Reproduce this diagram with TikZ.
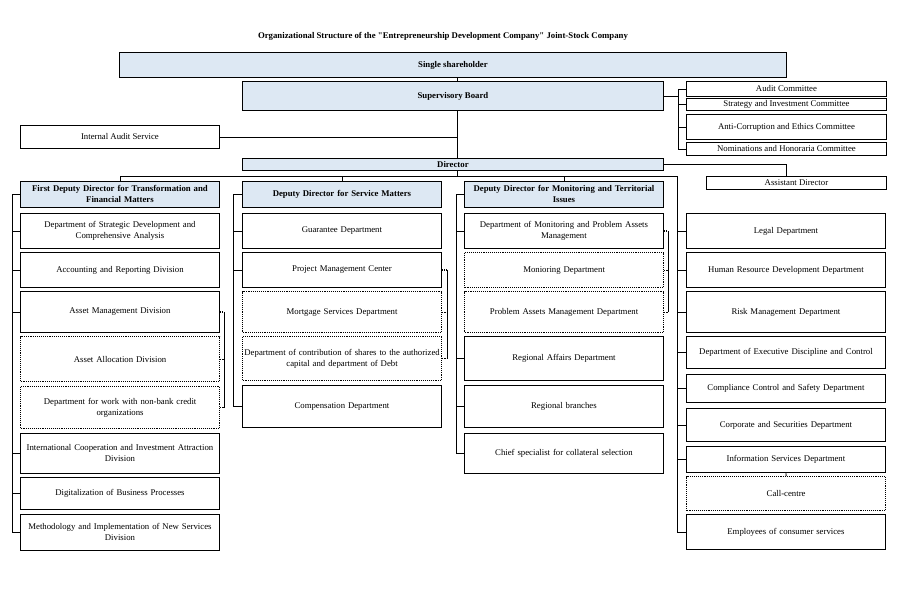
\documentclass[tikz,border=0pt]{standalone}
\usepackage{fontspec}
\setmainfont{Liberation Serif}
\newfontfamily\plainserif{Liberation Serif}
\definecolor{hdr}{RGB}{221,232,243}
\begin{document}
\begin{tikzpicture}[x=1pt,y=-1pt,
  base/.style={draw, line width=0.9pt, inner xsep=1pt, inner ysep=1pt, font=\fontsize{8.75}{11}\selectfont, align=center, anchor=north west},
  colbox/.style={base, minimum width=199pt, text width=197pt},
  head/.style={colbox, fill=hdr, font=\bfseries\fontsize{8.75}{11}\selectfont},
  dotbox/.style={colbox, densely dotted, line width=1.2pt},
  bighead/.style={base, fill=hdr, font=\bfseries\fontsize{8.75}{11}\selectfont},
  link/.style={line width=0.9pt},
  dlink/.style={densely dotted, line width=1.2pt}]
\useasboundingbox (0,0) rectangle (899,590);

\node[font=\plainserif\bfseries\fontsize{8.75}{11}\selectfont] (title) at (443,36) {Organizational Structure of the "Entrepreneurship Development Company" Joint-Stock Company};

% top level
\node[bighead, minimum width=667pt, minimum height=25pt] (ss) at (119,52) {Single shareholder};
\node[bighead, minimum width=421pt, minimum height=29pt] (sb) at (242,81) {Supervisory Board};
\node[bighead, minimum width=421pt, minimum height=12pt, inner ysep=0pt] (dir) at (242,158) {Director};
\node[base, minimum width=199pt, minimum height=23pt] (ias) at (20,125) {Internal Audit Service};

% committees
\node[base, minimum width=200pt, minimum height=15pt] (ac) at (686,81) {Audit Committee};
\node[base, minimum width=200pt, minimum height=12pt, inner ysep=0pt] (sic) at (686,98) {Strategy and Investment Committee};
\node[base, minimum width=200pt, minimum height=25pt] (ace) at (686,114) {Anti-Corruption and Ethics Committee};
\node[base, minimum width=200pt, minimum height=13pt, inner ysep=0pt] (nhc) at (686,142) {Nominations and Honoraria Committee};
\node[base, minimum width=180pt, minimum height=13pt, inner ysep=0pt] (ad) at (706,176) {Assistant Director};

% column 1
\node[head, minimum height=26pt] (c1h) at (20,181) {First Deputy Director for Transformation and\\Financial Matters};
\node[colbox, minimum height=35pt] (c1a) at (20,213) {Department of Strategic Development and\\Comprehensive Analysis};
\node[colbox, minimum height=35pt] (c1b) at (20,252) {Accounting and Reporting Division};
\node[colbox, minimum height=41pt] (c1c) at (20,291) {Asset Management Division};
\node[dotbox, minimum height=45pt] (c1d) at (20,336) {Asset Allocation Division};
\node[dotbox, minimum height=42pt] (c1e) at (20,386) {Department for work with non-bank credit\\organizations};
\node[colbox, minimum height=40pt] (c1f) at (20,433) {International Cooperation and Investment Attraction\\Division};
\node[colbox, minimum height=32pt] (c1g) at (20,477) {Digitalization of Business Processes};
\node[colbox, minimum height=36pt] (c1i) at (20,514) {Methodology and Implementation of New Services\\Division};

% column 2
\node[head, minimum height=26pt] (c2h) at (242,181) {Deputy Director for Service Matters};
\node[colbox, minimum height=35pt] (c2a) at (242,213) {Guarantee Department};
\node[colbox, minimum height=35pt] (c2b) at (242,252) {Project Management Center};
\node[dotbox, minimum height=41pt] (c2c) at (242,291) {Mortgage Services Department};
\node[dotbox, minimum height=44pt] (c2d) at (242,336) {Department of contribution of shares to the authorized\\capital and department of Debt};
\node[colbox, minimum height=42pt] (c2e) at (242,385) {Compensation Department};

% column 3
\node[head, minimum height=26pt] (c3h) at (464,181) {Deputy Director for Monitoring and Territorial\\Issues};
\node[colbox, minimum height=35pt] (c3a) at (464,213) {Department of Monitoring and Problem Assets\\Management};
\node[dotbox, minimum height=35pt] (c3b) at (464,252) {Monioring Department};
\node[dotbox, minimum height=41pt] (c3c) at (464,291) {Problem Assets Management Department};
\node[colbox, minimum height=44pt] (c3d) at (464,336) {Regional Affairs Department};
\node[colbox, minimum height=42pt] (c3e) at (464,385) {Regional branches};
\node[colbox, minimum height=40pt] (c3f) at (464,433) {Chief specialist for collateral selection};

% column 4
\node[colbox, minimum height=35pt] (c4a) at (686,213) {Legal Department};
\node[colbox, minimum height=35pt] (c4b) at (686,252) {Human Resource Development Department};
\node[colbox, minimum height=41pt] (c4c) at (686,291) {Risk Management Department};
\node[colbox, minimum height=32pt] (c4d) at (686,336) {Department of Executive Discipline and Control};
\node[colbox, minimum height=28pt] (c4e) at (686,374) {Compliance Control and Safety Department};
\node[colbox, minimum height=33pt] (c4f) at (686,408) {Corporate and Securities Department};
\node[colbox, minimum height=26pt] (c4g) at (686,446) {Information Services Department};
\node[dotbox, minimum height=34pt] (c4h) at (686,476) {Call-centre};
\node[colbox, minimum height=35pt] (c4i) at (686,514) {Employees of consumer services};

% helper coordinates
\coordinate (tx) at (457,0);
\coordinate (cm) at (678,0);
\coordinate (adx) at (786,0);
\coordinate (busy) at (0,176);
\coordinate (T1) at (12,0);
\coordinate (T2) at (233,0);
\coordinate (T3) at (456,0);
\coordinate (T4) at (677,0);
\coordinate (B1) at (224,0);
\coordinate (B2) at (447,0);
\coordinate (B3) at (668,0);

% top connectors
\draw[link] (ss.south -| tx) -- (sb.north -| tx);
\draw[link] (sb.south -| tx) -- (dir.north -| tx);
\draw[link] (ias.east) -- (ias.east -| tx);
\draw[link] (sb.east) -- (sb.east -| cm);
\draw[link] (ac.west -| cm) -- (nhc.west -| cm);
\foreach \n in {ac,sic,ace,nhc} \draw[link] (\n.west) -- (\n.west -| cm);
\draw[link] (dir.east) -- (dir.east -| adx) -- (adx |- ad.north);

% bus
\draw[link] (dir.south -| tx) -- (busy -| tx);
\draw[link] (c1h.north) -- (c1h.north |- busy) -- (busy -| T4) -- (T4 |- c4i.west) -- (c4i.west);
\draw[link] (c2h.north) -- (c2h.north |- busy);
\draw[link] (c3h.north) -- (c3h.north |- busy);
\foreach \n in {c4a,c4b,c4c,c4d,c4e,c4f,c4g} \draw[link] (\n.west) -- (\n.west -| T4);
\draw[link] (c4g.south) -- (c4h.north);

% column 1 trunk
\draw[link] (c1h.west) -- (c1h.west -| T1) -- (T1 |- c1i.west) -- (c1i.west);
\foreach \n in {c1a,c1b,c1c,c1f,c1g} \draw[link] (\n.west) -- (\n.west -| T1);
% column 2 trunk
\draw[link] (c2h.west) -- (c2h.west -| T2) -- (T2 |- c2e.west) -- (c2e.west);
\foreach \n in {c2a,c2b} \draw[link] (\n.west) -- (\n.west -| T2);
% column 3 trunk
\draw[link] (c3h.west) -- (c3h.west -| T3) -- (T3 |- c3f.west) -- (c3f.west);
\foreach \n in {c3a,c3d,c3e} \draw[link] (\n.west) -- (\n.west -| T3);

% brackets
\foreach \n in {c1c,c1d,c1e} \draw[dlink] (\n.east) -- (\n.east -| B1);
\draw[link] (c1c.east -| B1) -- (c1e.east -| B1);
\foreach \n in {c2b,c2c,c2d} \draw[dlink] (\n.east) -- (\n.east -| B2);
\draw[link] (c2b.east -| B2) -- (c2d.east -| B2);
\foreach \n in {c3a,c3b,c3c} \draw[dlink] (\n.east) -- (\n.east -| B3);
\draw[link] (c3a.east -| B3) -- (c3c.east -| B3);
\end{tikzpicture}
\end{document}
